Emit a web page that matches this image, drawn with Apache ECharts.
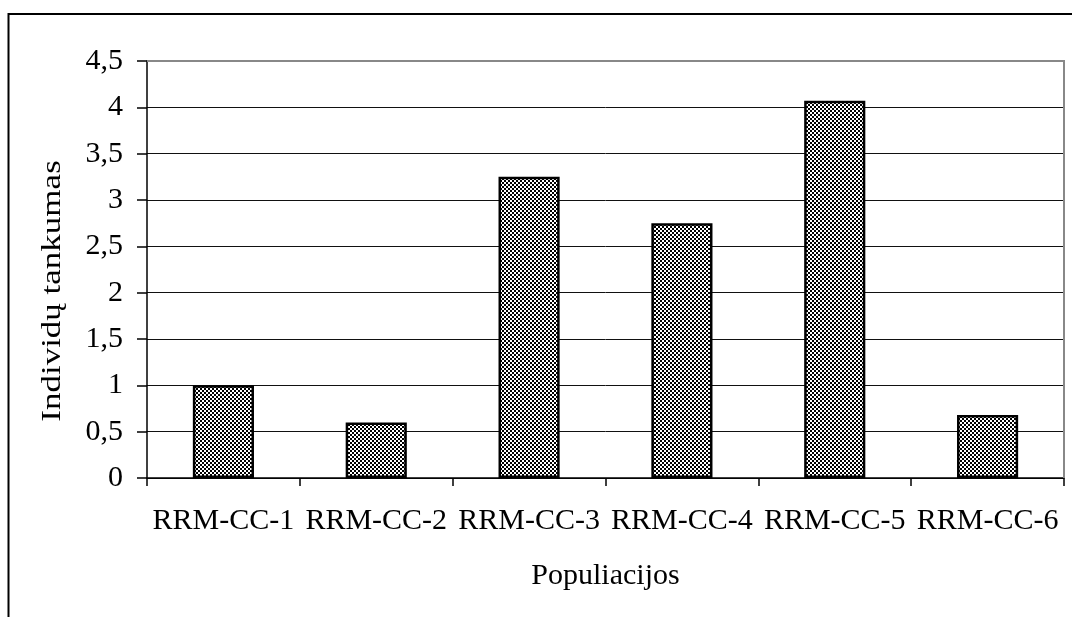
<!DOCTYPE html>
<html>
<head>
<meta charset="utf-8">
<script src="https://cdn.jsdelivr.net/npm/echarts@6/dist/echarts.min.js"></script>
<style>
html,body{margin:0;padding:0;background:#fff;}
#chart{width:1072px;height:617px;}
</style>
</head>
<body>
<div id="chart"></div>
<script>
const categories = ['RRM-CC-1','RRM-CC-2','RRM-CC-3','RRM-CC-4','RRM-CC-5','RRM-CC-6'];
const values = [1.0, 0.6, 3.25, 2.75, 4.07, 0.68];
const yTickLabels = ['0','0,5','1','1,5','2','2,5','3','3,5','4','4,5'];
const xTitle = 'Populiacijos';
const yTitle = 'Individų tankumas';

const FONT = '"Liberation Serif", "Times New Roman", serif';

// checkerboard pattern
const pc = document.createElement('canvas');
pc.width = 4; pc.height = 4;
const pctx = pc.getContext('2d');
pctx.fillStyle = '#fff'; pctx.fillRect(0,0,4,4);
pctx.fillStyle = '#000';
pctx.fillRect(0,0,2,2); pctx.fillRect(2,2,2,2);

const chart = echarts.init(document.getElementById('chart'), null, {renderer:'canvas'});
chart.setOption({
  animation:false,
  backgroundColor:'#fff',
  grid:{left:147, right:8, top:61, bottom:139, containLabel:false},
  xAxis:{
    type:'category',
    data:categories,
    boundaryGap:true,
    name:xTitle,
    nameLocation:'middle',
    nameGap:83,
    nameTextStyle:{fontFamily:FONT, fontSize:30, color:'#000'},
    axisLine:{lineStyle:{color:'#000', width:1.5}},
    axisTick:{show:true, length:8, lineStyle:{color:'#000', width:1.5}},
    axisLabel:{fontFamily:FONT, fontSize:30, color:'#000', margin:28, interval:0}
  },
  yAxis:{
    type:'value',
    min:0, max:4.5, interval:0.5,
    axisLine:{show:true, lineStyle:{color:'#000', width:1.5}},
    axisTick:{show:true, length:10, lineStyle:{color:'#000', width:1.5}},
    axisLabel:{fontFamily:FONT, fontSize:30, color:'#000', margin:24,
      formatter:function(v){ const i = Math.round(v/0.5); return yTickLabels[i]; }},
    splitLine:{show:true, lineStyle:{color:'#111', width:1}}
  },
  series:[{
    type:'bar',
    data:values,
    barWidth:'40%',
    itemStyle:{color:{image:pc, repetition:'repeat'}, borderColor:'#000', borderWidth:2.5}
  }],
  graphic:[
    {type:'rect', z:100, shape:{x:8.5, y:14, width:1100, height:700}, style:{fill:'none', stroke:'#000', lineWidth:2}},
    {type:'line', z:100, shape:{x1:147, y1:61, x2:1064, y2:61}, style:{stroke:'#888', lineWidth:2}},
    {type:'line', z:100, shape:{x1:1064, y1:60, x2:1064, y2:478}, style:{stroke:'#888', lineWidth:2}},
    {type:'text', z:100, x:53, y:291, rotation:Math.PI/2, scaleX:1.25, scaleY:1,
      style:{text:yTitle, font:'28px ' + FONT, fill:'#000', align:'center', verticalAlign:'middle'}}
  ]
});
</script>
</body>
</html>
